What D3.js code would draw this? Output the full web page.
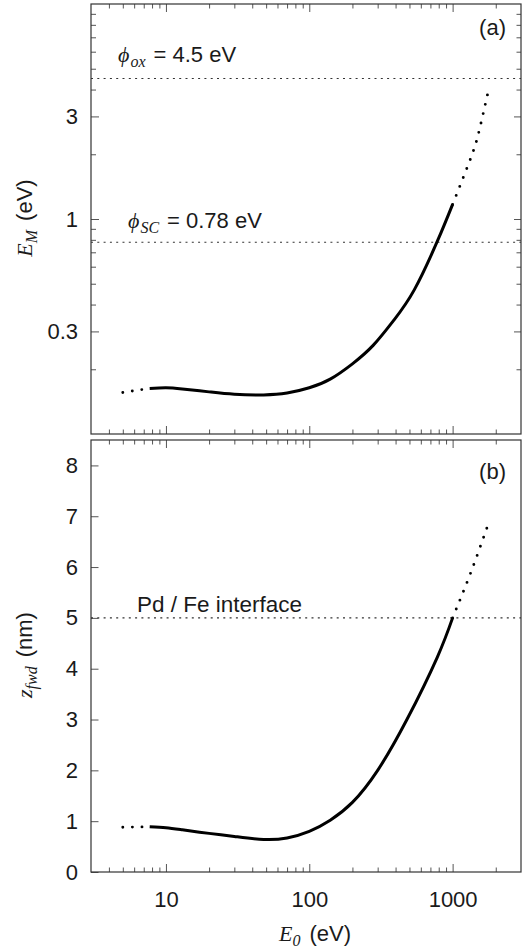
<!DOCTYPE html>
<html>
<head>
<meta charset="utf-8">
<script src="https://cdn.jsdelivr.net/npm/d3@7"></script>
<style>
	body { margin: 0; background: #fff; }
	svg text { font-family: "Liberation Sans", Arial, sans-serif; fill: #1a1a1a; }
	.math { font-family: "Liberation Serif", "DejaVu Serif", serif; font-style: italic; }
	.tick line { stroke: #555; }
	.tick text { font-size: 22px; }
</style>
</head>
<body>
<div id="chart"></div>
<script>

// Panel (a): E_M versus E_0
var energyTop = [5, 7.7, 10, 13, 20, 30, 48, 70, 100, 140, 200, 280, 390, 540, 780, 1000, 1350, 1540, 1770];
var emValues  = [0.156, 0.163, 0.164, 0.162, 0.157, 0.153, 0.152, 0.155, 0.164, 0.180, 0.212, 0.259, 0.339, 0.468, 0.784, 1.17, 1.95, 2.61, 3.91];

// Panel (b): z_fwd versus E_0
var energyBottom = [5, 7.7, 10, 13, 20, 30, 48, 70, 100, 140, 200, 300, 480, 780, 1000, 1330, 1750];
var zValues      = [0.88, 0.89, 0.87, 0.83, 0.76, 0.70, 0.64, 0.67, 0.80, 1.02, 1.37, 2.0, 3.0, 4.22, 5.0, 5.87, 6.8];

// curve is solid inside this range, dotted outside
var solidRange = [7.7, 1000];

// reference levels
var phiOx = 4.5;
var phiSC = 0.78;
var interfaceDepth = 5;

// ticks
var xMajorTicks = [10, 100, 1000];
var xMinorTicks = [4, 5, 6, 7, 8, 9, 20, 30, 40, 50, 60, 70, 80, 90, 200, 300, 400, 500, 600, 700, 800, 900, 2000];
var emMajorTicks = [0.3, 1, 3];
var emMinorTicks = [0.2, 0.4, 0.5, 0.6, 0.7, 0.8, 0.9, 2, 4, 5, 6, 7, 8, 9];
var zTicks = [0, 1, 2, 3, 4, 5, 6, 7, 8];


var margin = { left: 91, right: 11 };
var width = 532 - margin.left - margin.right;

var svg = d3.select("#chart").append("svg")
		.attr("width", 532)
		.attr("height", 950);

// shared x scale
var x = d3.scaleLog()
	.domain([3, 3000])
	.range([0, width]);

// Panels
var gA = svg.append("g").attr("transform", "translate(" + margin.left + ",4)");
var gB = svg.append("g").attr("transform", "translate(" + margin.left + ",440)");

var heightA = 430, heightB = 432;

var yA = d3.scaleLog()
	.domain([0.1, 10])
	.range([heightA, 0]);

var yB = d3.scaleLinear()
	.domain([0, 8.5])
	.range([heightB, 0]);


// x ticks on top and bottom of a panel
function drawXTicks(g, h, withLabels) {
	g.append("g").call(d3.axisTop(x).tickValues(xMajorTicks).tickSize(-8).tickFormat(""));
	g.append("g").call(d3.axisTop(x).tickValues(xMinorTicks).tickSize(-4.5).tickFormat(""));

	g.append("g")
		.attr("transform", "translate(0," + h + ")")
		.call(d3.axisBottom(x).tickValues(xMajorTicks).tickSize(-8).tickPadding(19)
			.tickFormat(withLabels ? d3.format("d") : ""));
	g.append("g")
		.attr("transform", "translate(0," + h + ")")
		.call(d3.axisBottom(x).tickValues(xMinorTicks).tickSize(-4.5).tickFormat(""));
}

drawXTicks(gA, heightA, false);
drawXTicks(gB, heightB, true);

// y axes of panel (a): log, ticks on both sides
gA.append("g")
	.call(d3.axisLeft(yA).tickValues(emMajorTicks).tickSize(-8).tickPadding(13).tickFormat(d3.format("")));
gA.append("g")
	.call(d3.axisLeft(yA).tickValues(emMinorTicks).tickSize(-5).tickFormat(""));
gA.append("g")
	.attr("transform", "translate(" + width + ",0)")
	.call(d3.axisRight(yA).tickValues(emMajorTicks).tickSize(-7).tickFormat(""));
gA.append("g")
	.attr("transform", "translate(" + width + ",0)")
	.call(d3.axisRight(yA).tickValues(emMinorTicks).tickSize(-4.5).tickFormat(""));

// y axis of panel (b): linear, left only
gB.append("g")
	.call(d3.axisLeft(yB).tickValues(zTicks).tickSize(-7.5).tickPadding(13));

svg.selectAll(".domain").remove();

// Frames
gA.append("rect")
	.attr("width", width).attr("height", heightA)
	.attr("fill", "none").attr("stroke", "#333").attr("stroke-width", 1.2);
gB.append("rect")
	.attr("width", width).attr("height", heightB)
	.attr("fill", "none").attr("stroke", "#333").attr("stroke-width", 1.2);


// Reference lines
function refLine(g, yPos) {
	g.append("line")
		.attr("x1", 0).attr("x2", width)
		.attr("y1", yPos).attr("y2", yPos)
		.attr("stroke", "#333")
		.attr("stroke-width", 1.1)
		.attr("stroke-dasharray", "2,4.3");
}
refLine(gA, yA(phiOx));
refLine(gA, yA(phiSC));
refLine(gB, yB(interfaceDepth));


// Curves: solid in the middle, dotted at both ends
function drawCurve(g, xs, ys, yScale) {
	var pts = xs.map(function(d, i) { return { e: d, v: ys[i] }; });

	var line = d3.line()
		.curve(d3.curveNatural)
		.x(function(d) { return x(d.e); })
		.y(function(d) { return yScale(d.v); });

	var left = pts.filter(function(d) { return d.e <= solidRange[0]; });
	var mid = pts.filter(function(d) { return d.e >= solidRange[0] && d.e <= solidRange[1]; });
	var right = pts.filter(function(d) { return d.e >= solidRange[1]; });

	g.append("path")
		.datum(mid)
		.attr("d", line)
		.attr("fill", "none")
		.attr("stroke", "#000")
		.attr("stroke-width", 3);

	[left, right].forEach(function(seg) {
		g.append("path")
			.datum(seg)
			.attr("d", line)
			.attr("fill", "none")
			.attr("stroke", "#000")
			.attr("stroke-width", 2.9)
			.attr("stroke-linecap", "round")
			.attr("stroke-dasharray", "0,9.6");
	});
}

drawCurve(gA, energyTop, emValues, yA);
drawCurve(gB, energyBottom, zValues, yB);


// Annotations
function phiLabel(xPos, yPos, sub, rest) {
	var t = svg.append("text")
		.attr("x", xPos)
		.attr("y", yPos)
		.attr("font-size", 22);
	t.append("tspan").attr("class", "math").text("\u03D5");
	t.append("tspan").attr("class", "math").attr("font-size", 16).attr("dy", 5).attr("dx", 1).text(sub);
	t.append("tspan").attr("dy", -5).attr("dx", 8).text(rest);
}
phiLabel(118, 62, "ox", "= 4.5 eV");
phiLabel(128, 228, "SC", "= 0.78 eV");

svg.append("text")
	.attr("x", 137)
	.attr("y", 612)
	.attr("font-size", 22.5)
	.text("Pd / Fe interface");

svg.append("text")
	.attr("x", 506).attr("y", 35)
	.attr("text-anchor", "end")
	.attr("font-size", 22)
	.text("(a)");
svg.append("text")
	.attr("x", 506).attr("y", 479)
	.attr("text-anchor", "end")
	.attr("font-size", 22)
	.text("(b)");


// Axis titles
function axisTitle(xPos, yPos, rotate, main, sub, unit) {
	var t = svg.append("text")
		.attr("transform", "translate(" + xPos + "," + yPos + ")" + (rotate ? " rotate(-90)" : ""))
		.attr("text-anchor", "middle")
		.attr("font-size", 22);
	t.append("tspan").attr("class", "math").text(main);
	t.append("tspan").attr("class", "math").attr("font-size", 16).attr("dy", 5).text(sub);
	t.append("tspan").attr("dy", -5).attr("dx", 9).text(unit);
}
axisTitle(32, 218, true, "E", "M", "(eV)");
axisTitle(32, 655, true, "z", "fwd", "(nm)");
axisTitle(315, 941, false, "E", "0", "(eV)");

</script>
</body>
</html>
